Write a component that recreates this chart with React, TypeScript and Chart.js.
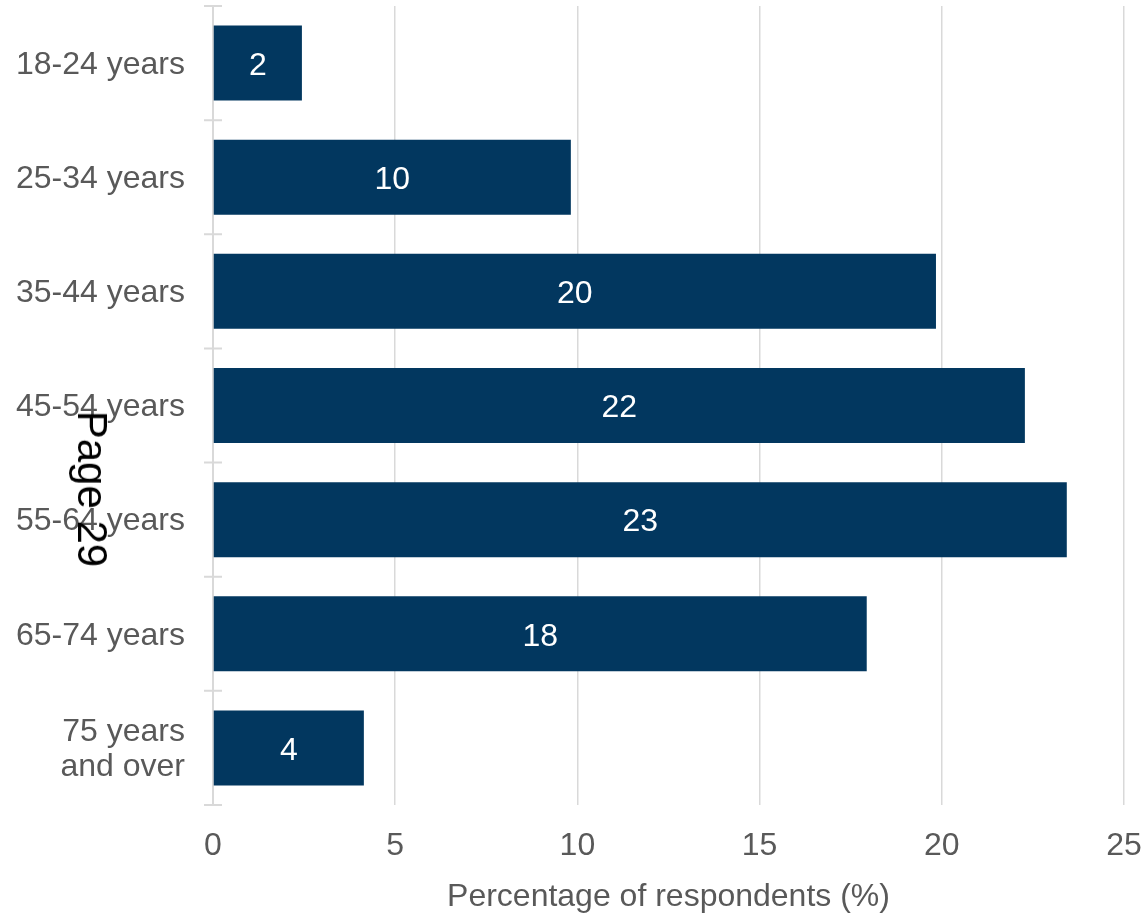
import React, { useEffect, useRef } from "react";
import { Chart, registerables } from "chart.js";

Chart.register(...registerables);

const categories: (string | string[])[] = [
  "18-24 years",
  "25-34 years",
  "35-44 years",
  "45-54 years",
  "55-64 years",
  "65-74 years",
  ["75 years", "and over"],
];
const values = [2.44, 9.82, 19.84, 22.28, 23.43, 17.94, 4.14];
const valueLabels = ["2", "10", "20", "22", "23", "18", "4"];
const xMin = 0;
const xMax = 25;
const xStep = 5;
const xTitle = "Percentage of respondents (%)";
const pageMark = "Page 29";

const FONT = "'Liberation Sans', Arial, sans-serif";
const TEXT = "#595959";
const GRID = "#d9d9d9";
const BAR = "#02375f";
const FS = 32;

export default function App() {
  const ref = useRef<HTMLCanvasElement>(null);

  useEffect(() => {
    if (!ref.current) return;

    const crossTicks = {
      id: "crossTicks",
      afterDraw(chart: any) {
        const ctx = chart.ctx;
        const y = chart.scales.y;
        const x0 = chart.chartArea.left;
        ctx.save();
        ctx.strokeStyle = GRID;
        ctx.lineWidth = 2;
        ctx.beginPath();
        for (let i = 0; i <= categories.length; i++) {
          const py = y.getPixelForValue(i - 0.5);
          ctx.moveTo(x0 - 9, py);
          ctx.lineTo(x0 + 9, py);
        }
        ctx.stroke();
        ctx.restore();
      },
    };

    const barLabels = {
      id: "barLabels",
      afterDatasetsDraw(chart: any) {
        const ctx = chart.ctx;
        const meta = chart.getDatasetMeta(0);
        ctx.save();
        ctx.fillStyle = "#ffffff";
        ctx.font = `${FS}px ${FONT}`;
        ctx.textAlign = "center";
        ctx.textBaseline = "middle";
        meta.data.forEach((el: any, i: number) => {
          const p = el.getProps(["x", "y", "base"], true);
          ctx.fillText(valueLabels[i], (p.x + p.base) / 2, p.y + 3);
        });
        ctx.restore();
      },
    };

    const chart = new Chart(ref.current, {
      type: "bar",
      data: {
        labels: categories,
        datasets: [
          {
            data: values,
            backgroundColor: BAR,
            borderWidth: 0,
            barPercentage: 0.657,
            categoryPercentage: 1,
          },
        ],
      },
      options: {
        indexAxis: "y",
        animation: false,
        responsive: false,
        maintainAspectRatio: false,
        devicePixelRatio: 1,
        layout: { padding: { top: 6, right: 21, left: 0, bottom: 0 } },
        plugins: {
          legend: { display: false },
          tooltip: { enabled: false },
        },
        scales: {
          x: {
            type: "linear",
            min: xMin,
            max: xMax,
            ticks: {
              stepSize: xStep,
              font: { family: FONT, size: FS },
              color: TEXT,
              padding: 22,
            },
            grid: {
              color: GRID,
              lineWidth: 1.5,
              drawTicks: false,
            },
            border: { display: false },
            title: {
              display: true,
              text: xTitle,
              font: { family: FONT, size: FS },
              color: TEXT,
              padding: { top: 0, bottom: 0 },
            },
            afterFit(scale: any) {
              scale.height = 111;
              scale.paddingLeft = 0;
              scale.paddingRight = 0;
            },
          },
          y: {
            type: "category",
            offset: true,
            ticks: {
              font: { family: FONT, size: FS, lineHeight: 1.1 },
              color: TEXT,
              padding: 19,
              labelOffset: 2,
            },
            grid: {
              display: true,
              offset: true,
              drawOnChartArea: false,
              drawTicks: true,
              tickLength: 9,
              color: "rgba(0,0,0,0)",
            },
            border: { display: true, color: GRID, width: 2 },
            afterFit(scale: any) {
              scale.width = 213;
              scale.paddingTop = 0;
              scale.paddingBottom = 0;
            },
          },
        },
      },
      plugins: [crossTicks, barLabels],
    });

    return () => chart.destroy();
  }, []);

  return (
    <div style={{ position: "absolute", left: 0, top: 0, width: 1145, height: 916 }}>
      <canvas ref={ref} width={1145} height={916} style={{ width: 1145, height: 916, display: "block" }} />
      <div
        style={{
          position: "absolute",
          left: 92,
          top: 489,
          transform: "translate(-50%, -50%) rotate(90deg)",
          fontFamily: FONT,
          fontSize: 42,
          lineHeight: 1,
          color: "#000000",
          whiteSpace: "nowrap",
        }}
      >
        {pageMark}
      </div>
    </div>
  );
}
